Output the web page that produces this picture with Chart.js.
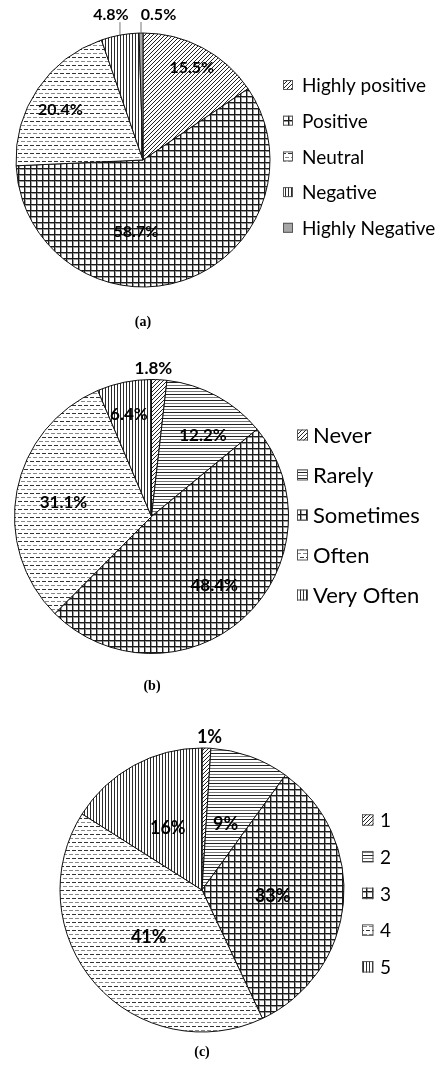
<!DOCTYPE html>
<html>
<head>
<meta charset="utf-8">
<script src="https://cdn.jsdelivr.net/npm/chart.js@4.4.1/dist/chart.umd.min.js"></script>
<style>
    body { margin: 0; background: #fff; }
    #page { position: relative; width: 440px; height: 1069px; overflow: hidden; }
    canvas { position: absolute; left: 0; }
    .cap { position: absolute; font: bold 14px "Liberation Serif", serif; transform: translate(-50%, -50%); }
</style>
</head>
<body>
<div id="page">
    <canvas id="chartA" width="440" height="340" style="top:0px"></canvas>
    <canvas id="chartB" width="440" height="365" style="top:340px"></canvas>
    <canvas id="chartC" width="440" height="364" style="top:705px"></canvas>
    <div class="cap" style="left:143px;top:322px">(a)</div>
    <div class="cap" style="left:152px;top:686px">(b)</div>
    <div class="cap" style="left:202px;top:1052px">(c)</div>
</div>
<script>
// data
const sentimentLabels = ["Highly positive", "Positive", "Neutral", "Negative", "Highly Negative"];
const sentimentValues = [15.5, 58.7, 20.4, 4.8, 0.5];

const frequencyLabels = ["Never", "Rarely", "Sometimes", "Often", "Very Often"];
const frequencyValues = [1.8, 12.2, 48.4, 31.1, 6.4];

const ratingLabels = ["1", "2", "3", "4", "5"];
const ratingValues = [1, 9, 33, 41, 16];

// hatch fills
function makePattern(kind) {
    const tile = document.createElement("canvas");
    const sizes = { diag: [4, 4], grid: [6, 6], dash: [6, 8], vert: [3, 1], horiz: [1, 6] };
    const [w, h] = sizes[kind];
    tile.width = w;
    tile.height = h;
    const c = tile.getContext("2d");
    c.fillStyle = "#fff";
    c.fillRect(0, 0, w, h);
    if (kind === "diag") {
        c.strokeStyle = "#222";
        c.lineWidth = 1;
        c.beginPath();
        c.moveTo(-1, 5); c.lineTo(5, -1);
        c.moveTo(-1, 1); c.lineTo(1, -1);
        c.moveTo(3, 5); c.lineTo(5, 3);
        c.stroke();
    } else if (kind === "grid") {
        c.fillStyle = "#999";
        c.fillRect(0, 1, 6, 1);
        c.fillRect(1, 0, 1, 6);
        c.fillStyle = "#1a1a1a";
        c.fillRect(0, 0, 6, 1);
        c.fillRect(0, 0, 1, 6);
    } else if (kind === "dash") {
        c.fillStyle = "#333";
        c.fillRect(0, 1, 4, 1);
        c.fillStyle = "#888";
        c.fillRect(3, 5, 4, 1);
        c.fillRect(0, 5, 1, 1);
    } else if (kind === "vert") {
        c.fillStyle = "#2a2a2a";
        c.fillRect(0, 0, 1, 1);
    } else if (kind === "horiz") {
        c.fillStyle = "#222";
        c.fillRect(0, 0, 1, 1);
        c.fillStyle = "#777";
        c.fillRect(0, 3, 1, 1);
    }
    return c.createPattern(tile, "repeat");
}

const P = {
    diag: makePattern("diag"),
    grid: makePattern("grid"),
    dash: makePattern("dash"),
    vert: makePattern("vert"),
    horiz: makePattern("horiz"),
    grey: "#a6a6a6"
};

// percentage labels, leader lines and side legend
const pieExtras = {
    id: "pieExtras",
    afterDatasetsDraw(chart, args, opts) {
        const ctx = chart.ctx;
        const arcs = chart.getDatasetMeta(0).data;
        const values = chart.data.datasets[0].data;
        const fills = chart.data.datasets[0].backgroundColor;

        ctx.save();
        ctx.fillStyle = "#000";
        ctx.textAlign = "center";
        ctx.textBaseline = "middle";
        ctx.font = "bold " + opts.labelSize + "px Lato";
        arcs.forEach((arc, i) => {
            const p = arc.getProps(["x", "y", "startAngle", "endAngle", "outerRadius"], true);
            const mid = (p.startAngle + p.endAngle) / 2;
            const a = mid + (opts.shift[i] || 0) * Math.PI / 180;
            const r = p.outerRadius * opts.dist[i];
            const lx = p.x + Math.cos(a) * r;
            const ly = p.y + Math.sin(a) * r;
            const text = values[i] + "%";
            ctx.fillText(text, lx, ly);

            if (opts.leader && opts.leader[i]) {
                const ex = p.x + Math.cos(mid) * p.outerRadius;
                const ey = p.y + Math.sin(mid) * p.outerRadius;
                const hw = ctx.measureText(text).width / 2;
                const by = ly + opts.labelSize * 0.45;
                const tx = Math.min(Math.max(ex, lx - hw), lx + hw);
                ctx.strokeStyle = "#777";
                ctx.lineWidth = 1;
                ctx.beginPath();
                ctx.moveTo(ex, ey);
                ctx.lineTo(ex, by);
                ctx.lineTo(tx, by);
                ctx.stroke();
            }
        });

        const lg = opts.legend;
        ctx.textAlign = "left";
        ctx.font = lg.size + "px Lato";
        chart.data.labels.forEach((label, i) => {
            const y = lg.y + i * lg.gap;
            ctx.fillStyle = fills[i];
            ctx.fillRect(lg.x, y - lg.box / 2, lg.box, lg.box);
            ctx.strokeStyle = "#555";
            ctx.lineWidth = 1;
            ctx.strokeRect(lg.x + 0.5, y - lg.box / 2 + 0.5, lg.box - 1, lg.box - 1);
            ctx.fillStyle = "#000";
            ctx.fillText(label, lg.textX, y + 1);
        });
        ctx.restore();
    }
};

function pieChart(id, labels, values, fills, geo, extras) {
    const canvas = document.getElementById(id);
    return new Chart(canvas, {
        type: "pie",
        data: {
            labels: labels,
            datasets: [{
                data: values,
                backgroundColor: fills,
                borderColor: "#111",
                borderWidth: 1
            }]
        },
        options: {
            responsive: false,
            animation: false,
            radius: geo.r,
            layout: {
                padding: {
                    left: geo.cx - geo.r,
                    right: canvas.width - geo.cx - geo.r,
                    top: geo.cy - geo.r,
                    bottom: canvas.height - geo.cy - geo.r
                }
            },
            plugins: {
                legend: { display: false },
                tooltip: { enabled: false },
                pieExtras: extras
            }
        },
        plugins: [pieExtras]
    });
}

pieChart("chartA", sentimentLabels, sentimentValues,
    [P.diag, P.grid, P.dash, P.vert, P.grey],
    { cx: 143, cy: 160, r: 127 },
    {
        labelSize: 16,
        dist: [0.82, 0.57, 0.76, 1.17, 1.15],
        shift: [0, 24, -3, -2, 7],
        leader: [false, false, false, true, true],
        legend: { x: 283, textX: 302, y: 85, gap: 35.7, box: 10, size: 19 }
    });

pieChart("chartB", frequencyLabels, frequencyValues,
    [P.diag, P.horiz, P.grid, P.dash, P.vert],
    { cx: 151.5, cy: 176.5, r: 137 },
    {
        labelSize: 17,
        dist: [1.08, 0.70, 0.68, 0.65, 0.76],
        shift: [-2.5, 4, 0, -2, -1],
        legend: { x: 297, textX: 313, y: 95, gap: 40, box: 11, size: 22 }
    });

pieChart("chartC", ratingLabels, ratingValues,
    [P.diag, P.horiz, P.grid, P.dash, P.vert],
    { cx: 202, cy: 185, r: 142 },
    {
        labelSize: 18,
        dist: [1.08, 0.49, 0.50, 0.50, 0.50],
        shift: [1, 0, 0, 0, 0],
        legend: { x: 362, textX: 380, y: 115, gap: 36.7, box: 11.5, size: 19 }
    });
</script>
</body>
</html>
